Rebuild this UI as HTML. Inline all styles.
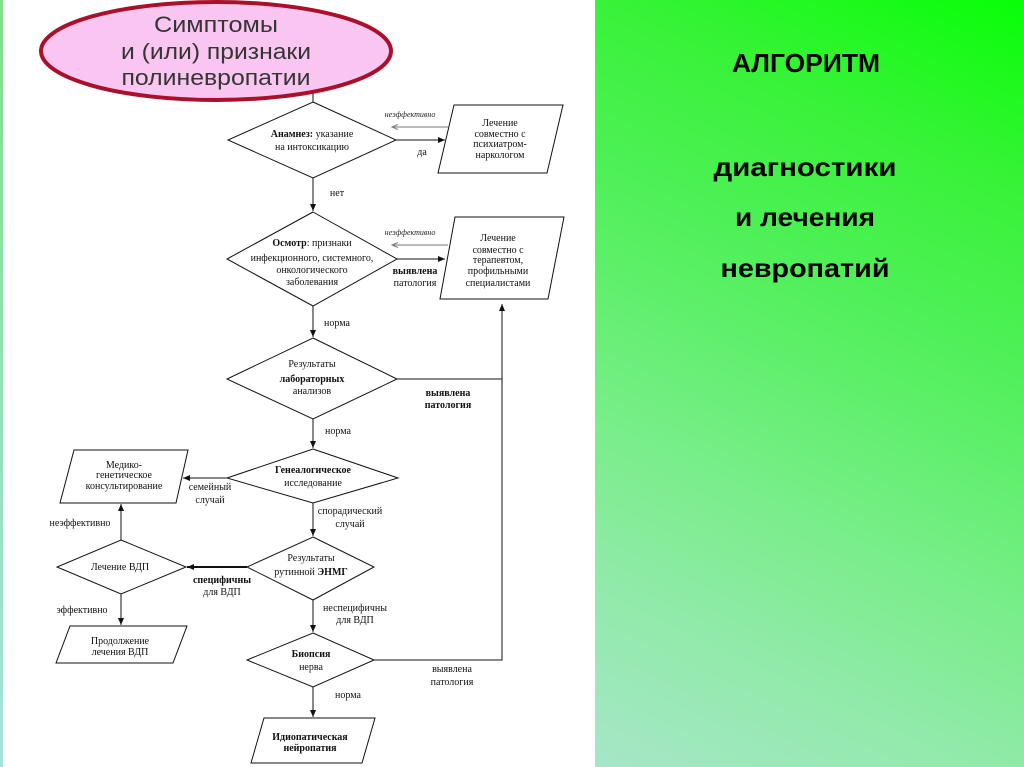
<!DOCTYPE html>
<html><head><meta charset="utf-8">
<style>
html,body{margin:0;padding:0;}
body{width:1024px;height:767px;position:relative;overflow:hidden;background:#fff;}
#strip{position:absolute;left:0;top:0;width:3px;height:767px;background:linear-gradient(#7fe08a,#a2e4dc);}
#panel{position:absolute;left:595px;top:0;width:429px;height:767px;
background:linear-gradient(205deg,#08ff08 0%,#38f238 20%,#52f05c 40%,#76ee86 62%,#90eaa8 80%,#a6e6c8 100%);}
svg{position:absolute;left:0;top:0;}
.t{font-family:"Liberation Serif",serif;font-size:10px;fill:#111;text-anchor:middle;}
.i{font-family:"Liberation Serif",serif;font-size:8px;font-style:italic;fill:#222;text-anchor:middle;}
.b{font-weight:bold;}
.s{fill:#fff;stroke:#111;stroke-width:1;}
.l{stroke:#111;stroke-width:1;fill:none;}
.h{font-family:"Liberation Sans",sans-serif;font-weight:bold;fill:#050505;text-anchor:middle;}
.e{font-family:"Liberation Sans",sans-serif;fill:#353535;text-anchor:middle;font-size:22px;}
</style></head>
<body>
<div id="strip"></div>
<div id="panel"></div>
<svg width="1024" height="767" viewBox="0 0 1024 767">
<defs>
<marker id="a" markerWidth="8" markerHeight="6" refX="7" refY="3" orient="auto" markerUnits="userSpaceOnUse"><path d="M0,0 L7,3 L0,6 z" fill="#111"/></marker>
<marker id="g" markerWidth="7" markerHeight="6" refX="6" refY="3" orient="auto" markerUnits="userSpaceOnUse"><path d="M0,0.5 L6,3 L0,5.5" fill="none" stroke="#777" stroke-width="1"/></marker>
</defs>

<!-- right panel text -->
<text class="h" x="806" y="72" font-size="26" textLength="148" lengthAdjust="spacingAndGlyphs">АЛГОРИТМ</text>
<text class="h" x="805" y="176" font-size="26" textLength="183" lengthAdjust="spacingAndGlyphs">диагностики</text>
<text class="h" x="805" y="226" font-size="26" textLength="140" lengthAdjust="spacingAndGlyphs">и лечения</text>
<text class="h" x="805" y="277" font-size="26" textLength="169" lengthAdjust="spacingAndGlyphs">невропатий</text>

<!-- connectors -->
<line class="l" x1="313" y1="90" x2="313" y2="102"/>
<line class="l" x1="396" y1="140" x2="445" y2="140" marker-end="url(#a)"/>
<line x1="448" y1="127" x2="392" y2="127" stroke="#777" stroke-width="1" marker-end="url(#g)"/>
<line class="l" x1="313" y1="178" x2="313" y2="211" marker-end="url(#a)"/>
<line class="l" x1="397" y1="259" x2="445" y2="259" marker-end="url(#a)"/>
<line x1="448" y1="245" x2="392" y2="245" stroke="#777" stroke-width="1" marker-end="url(#g)"/>
<line class="l" x1="313" y1="306" x2="313" y2="337" marker-end="url(#a)"/>
<polyline class="l" points="397,379 502,379"/>
<polyline class="l" points="374,660 502,660 502,304" marker-end="url(#a)"/>
<line class="l" x1="313" y1="419" x2="313" y2="448" marker-end="url(#a)"/>
<line class="l" x1="227" y1="478" x2="183" y2="478" marker-end="url(#a)"/>
<line class="l" x1="313" y1="503" x2="313" y2="536" marker-end="url(#a)"/>
<line x1="247" y1="567" x2="187" y2="567" stroke="#111" stroke-width="2" marker-end="url(#a)"/>
<line class="l" x1="121" y1="540" x2="121" y2="504" marker-end="url(#a)"/>
<line class="l" x1="121" y1="594" x2="121" y2="625" marker-end="url(#a)"/>
<line class="l" x1="313" y1="600" x2="313" y2="632" marker-end="url(#a)"/>
<line class="l" x1="313" y1="687" x2="313" y2="717" marker-end="url(#a)"/>

<!-- shapes -->
<polygon class="s" points="313,102 396,140 313,178 228,140"/>
<polygon class="s" points="313,212 397,259 313,306 227,259"/>
<polygon class="s" points="313,338 397,379 313,419 227,379"/>
<polygon class="s" points="313,449 398,478 313,503 227,478"/>
<polygon class="s" points="313,537 374,567 313,600 247,567"/>
<polygon class="s" points="121,540 186,567 121,594 57,567"/>
<polygon class="s" points="313,633 374,660 313,687 247,660"/>
<polygon class="s" points="454,105 563,105 547,173 438,173"/>
<polygon class="s" points="455,217 564,217 548,299 440,299"/>
<polygon class="s" points="74,450 188,450 176,503 60,503"/>
<polygon class="s" points="70,626 187,626 173,663 56,663"/>
<polygon class="s" points="264,718 375,718 362,763 251,763"/>

<!-- ellipse -->
<ellipse cx="216" cy="51" rx="175" ry="49" fill="#f9c6f1" stroke="#a8102c" stroke-width="4"/>
<text class="e" x="216" y="32" textLength="124" lengthAdjust="spacingAndGlyphs">Симптомы</text>
<text class="e" x="216" y="59" textLength="190" lengthAdjust="spacingAndGlyphs">и (или) признаки</text>
<text class="e" x="216" y="85" textLength="189" lengthAdjust="spacingAndGlyphs">полиневропатии</text>

<!-- node text -->
<text class="t" x="312" y="137"><tspan class="b">Анамнез:</tspan> указание</text>
<text class="t" x="312" y="150">на интоксикацию</text>

<text class="t" x="312" y="246"><tspan class="b">Осмотр</tspan>: признаки</text>
<text class="t" x="312" y="261">инфекционного, системного,</text>
<text class="t" x="312" y="273">онкологического</text>
<text class="t" x="312" y="285">заболевания</text>

<text class="t" x="500" y="126">Лечение</text>
<text class="t" x="500" y="137">совместно с</text>
<text class="t" x="500" y="147">психиатром-</text>
<text class="t" x="500" y="158">наркологом</text>

<text class="t" x="498" y="241">Лечение</text>
<text class="t" x="498" y="253">совместно с</text>
<text class="t" x="498" y="263">терапевтом,</text>
<text class="t" x="498" y="274">профильными</text>
<text class="t" x="498" y="286">специалистами</text>

<text class="t" x="312" y="367">Результаты</text>
<text class="t b" x="312" y="382">лабораторных</text>
<text class="t" x="312" y="394">анализов</text>

<text class="t b" x="313" y="473">Генеалогическое</text>
<text class="t" x="313" y="486">исследование</text>

<text class="t" x="124" y="468">Медико-</text>
<text class="t" x="124" y="478">генетическое</text>
<text class="t" x="124" y="489">консультирование</text>

<text class="t" x="311" y="561">Результаты</text>
<text class="t" x="311" y="575">рутинной <tspan class="b">ЭНМГ</tspan></text>

<text class="t" x="120" y="570">Лечение ВДП</text>

<text class="t" x="120" y="644">Продолжение</text>
<text class="t" x="120" y="655">лечения ВДП</text>

<text class="t b" x="311" y="657">Биопсия</text>
<text class="t" x="311" y="670">нерва</text>

<text class="t b" x="310" y="740">Идиопатическая</text>
<text class="t b" x="310" y="751">нейропатия</text>

<!-- connector labels -->
<text class="i" x="410" y="117">неэффективно</text>
<text class="t" x="422" y="155">да</text>
<text class="t" x="337" y="196">нет</text>
<text class="i" x="410" y="235">неэффективно</text>
<text class="t b" x="415" y="274">выявлена</text>
<text class="t" x="415" y="286">патология</text>
<text class="t" x="337" y="326">норма</text>
<text class="t b" x="448" y="396">выявлена</text>
<text class="t b" x="448" y="408">патология</text>
<text class="t" x="338" y="434">норма</text>
<text class="t" x="210" y="490">семейный</text>
<text class="t" x="210" y="503">случай</text>
<text class="t" x="350" y="514">спорадический</text>
<text class="t" x="350" y="527">случай</text>
<text class="t" x="80" y="526">неэффективно</text>
<text class="t b" x="222" y="583">специфичны</text>
<text class="t" x="222" y="595">для ВДП</text>
<text class="t" x="82" y="613">эффективно</text>
<text class="t" x="355" y="611">неспецифичны</text>
<text class="t" x="355" y="623">для ВДП</text>
<text class="t" x="452" y="672">выявлена</text>
<text class="t" x="452" y="685">патология</text>
<text class="t" x="348" y="698">норма</text>
</svg>
</body></html>
